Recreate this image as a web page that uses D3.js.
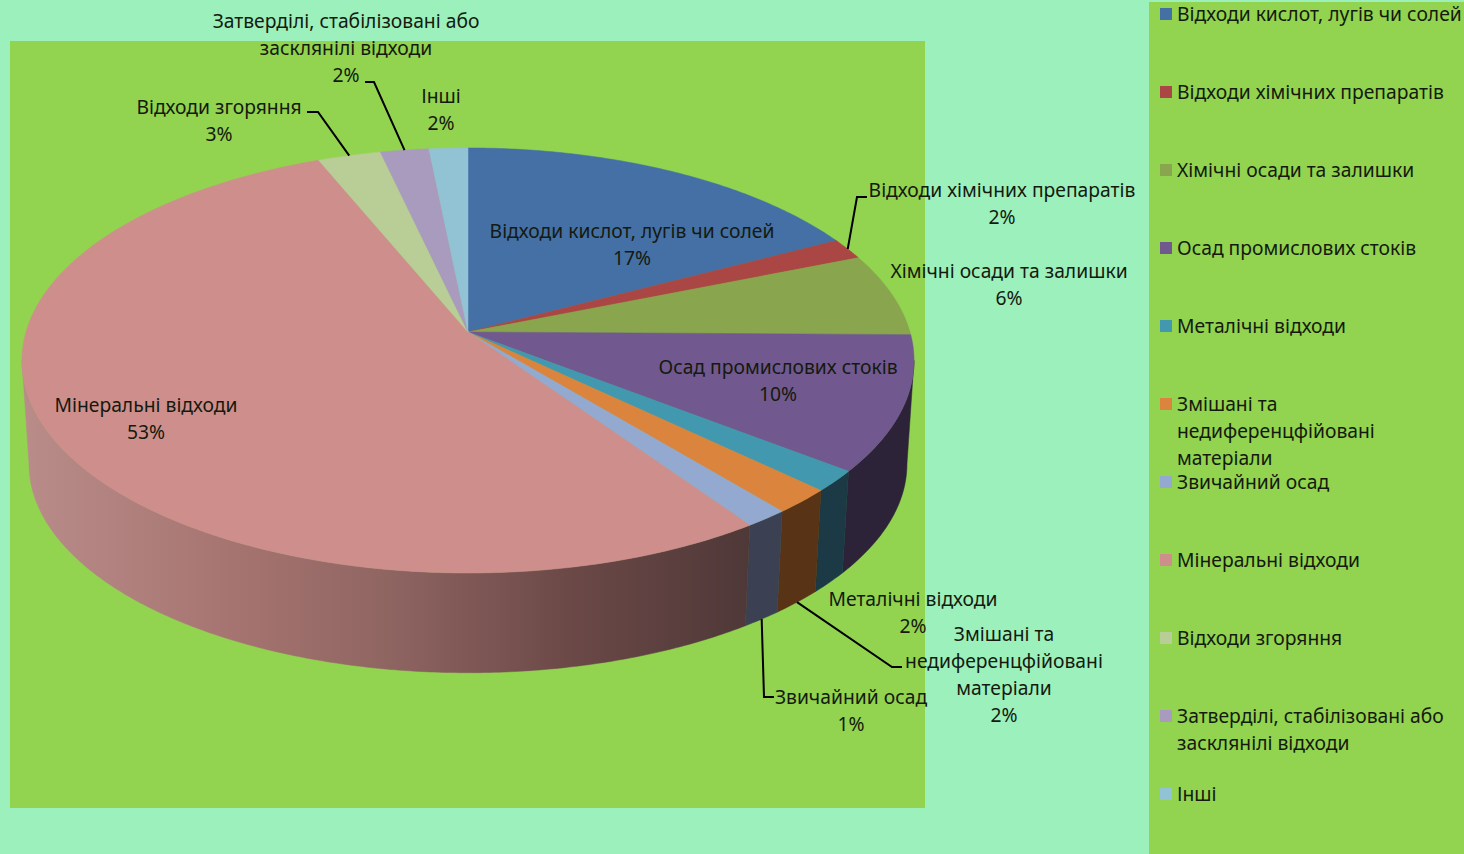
<!DOCTYPE html>
<html>
<head>
<meta charset="utf-8">
<script src="https://cdn.jsdelivr.net/npm/d3@7"></script>
<style>
  html, body { margin: 0; padding: 0; background: #9cf0bc; overflow: hidden; }
  text { font-family: "Noto Sans", sans-serif; font-size: 19.3px; fill: #141a0e; }
</style>
</head>
<body>
<div id="chart"></div>
<script>
// "|" marks a line break in the label
const categories = [
  'Відходи кислот, лугів чи солей',
  'Відходи хімічних препаратів',
  'Хімічні осади та залишки',
  'Осад промислових стоків',
  'Металічні відходи',
  'Змішані та|недиференцфійовані|матеріали',
  'Звичайний осад',
  'Мінеральні відходи',
  'Відходи згоряння',
  'Затверділі, стабілізовані або|засклянілі відходи',
  'Інші'
];
const values = [17.3, 1.6, 6.3, 10.3, 1.6, 1.9, 1.4, 53.4, 2.6, 2.0, 1.6];

const topColors = ['#4470a6', '#aa4643', '#89a54e', '#71588f', '#4198af', '#db843d', '#93a9cf', '#ce8f8c', '#b9cd96', '#a99bbd', '#92c3d4'];
const wallColors = ['#29436a', '#662a28', '#52632f', '#2c2339', '#1b3a45', '#583316', '#3b4152', 'url(#mineral)', '#6f7b5a', '#655d71', '#58757f'];

// label anchor: centre x, middle of first line
const labelX = [632, 1002, 1009, 778, 913, 1004, 851, 146, 219, 346, 441];
const labelY = [230, 189, 270, 366, 598, 633, 696, 404, 106, 20, 95];

// leader lines: slice index, elbow, end, which rim it starts from
const leaders = [
  { i: 1, elbow: [857, 197], end: [867, 197], rim: 'top' },
  { i: 5, elbow: [892, 667], end: [902, 667], rim: 'bottom' },
  { i: 6, elbow: [764, 697], end: [774, 697], rim: 'bottom' },
  { i: 8, elbow: [318, 112], end: [307, 112], rim: 'top' },
  { i: 9, elbow: [374, 82], end: [365, 82], rim: 'top' }
];

const width = 1464, height = 854;
const lineHeight = 27;

// pie in perspective: the apex sits above the middle of the ellipse
const cx = 468, cy = 332;
const persp = 0.134;
const topShape = { rx: 442, ry: 208.7, dy: 0 };
const bottomShape = { rx: 435, ry: 205, dy: 104 };

function project(angle, r, shape) {
  const u = r * Math.sin(angle), v = r * Math.cos(angle);
  const w = 1 + persp * v;
  return [cx + shape.rx * u / w, cy + shape.dy - shape.ry * v / w];
}

function arcPoints(a0, a1, shape) {
  const n = Math.max(2, Math.ceil((a1 - a0) / 0.01));
  return d3.range(n + 1).map(i => project(a0 + (a1 - a0) * i / n, 1, shape));
}

const svg = d3.select('#chart').append('svg')
  .attr('width', width)
  .attr('height', height)
  .style('display', 'block');

const defs = svg.append('defs');
const grad = defs.append('linearGradient')
  .attr('id', 'mineral')
  .attr('gradientUnits', 'userSpaceOnUse')
  .attr('x1', 25).attr('x2', 750).attr('y1', 0).attr('y2', 0);
[[0, '#b98c89'], [0.3, '#a5736f'], [0.5, '#8f6562'], [0.75, '#6b4947'], [1, '#4f3838']].forEach(s => {
  grad.append('stop').attr('offset', s[0]).attr('stop-color', s[1]);
});

svg.append('rect').attr('x', 10).attr('y', 41).attr('width', 915).attr('height', 767).attr('fill', '#92d350');
svg.append('rect').attr('x', 1149).attr('y', 2).attr('width', 315).attr('height', 852).attr('fill', '#92d350');

const pie = d3.pie().sort(null).value(d => d);
const slices = pie(values);
const line = d3.line();

// only the front of the wall shows, between the left and right silhouette points
const wallStart = Math.acos(-persp), wallEnd = 2 * Math.PI - wallStart;

svg.append('g').selectAll('path')
  .data(slices.filter(d => d.endAngle > wallStart && d.startAngle < wallEnd))
  .join('path')
  .attr('d', d => {
    const a0 = Math.max(d.startAngle, wallStart), a1 = Math.min(d.endAngle, wallEnd);
    return line(arcPoints(a0, a1, topShape).concat(arcPoints(a0, a1, bottomShape).reverse())) + 'Z';
  })
  .attr('fill', d => wallColors[d.index])
  .attr('stroke', d => wallColors[d.index])
  .attr('stroke-width', 0.5);

svg.append('g').selectAll('path')
  .data(slices)
  .join('path')
  .attr('d', d => line([[cx, cy]].concat(arcPoints(d.startAngle, d.endAngle, topShape))) + 'Z')
  .attr('fill', d => topColors[d.index])
  .attr('stroke', d => topColors[d.index])
  .attr('stroke-width', 0.5);

svg.append('g').selectAll('path')
  .data(leaders)
  .join('path')
  .attr('d', d => {
    const s = slices[d.i];
    const start = project((s.startAngle + s.endAngle) / 2, 1, d.rim === 'top' ? topShape : bottomShape);
    return line([start, d.elbow, d.end]);
  })
  .attr('fill', 'none')
  .attr('stroke', '#000')
  .attr('stroke-width', 2);

// data labels
const labels = svg.append('g').selectAll('text')
  .data(categories)
  .join('text')
  .attr('text-anchor', 'middle')
  .attr('dominant-baseline', 'central');

labels.each(function(d, i) {
  const rows = d.split('|').concat(Math.round(values[i]) + '%');
  d3.select(this).selectAll('tspan')
    .data(rows)
    .join('tspan')
    .attr('x', labelX[i])
    .attr('y', (r, j) => labelY[i] + j * lineHeight)
    .text(r => r);
});

// legend
const legendY = d3.scaleLinear().domain([0, categories.length - 1]).range([14, 794]);
const legend = svg.append('g').selectAll('g')
  .data(categories)
  .join('g')
  .attr('transform', (d, i) => `translate(1160,${legendY(i)})`);

legend.append('rect')
  .attr('y', -6)
  .attr('width', 12)
  .attr('height', 12)
  .attr('fill', (d, i) => topColors[i]);

legend.append('text')
  .attr('dominant-baseline', 'central')
  .selectAll('tspan')
  .data(d => d.split('|'))
  .join('tspan')
  .attr('x', 17)
  .attr('y', (r, j) => j * lineHeight - 1)
  .text(r => r);
</script>
</body>
</html>
